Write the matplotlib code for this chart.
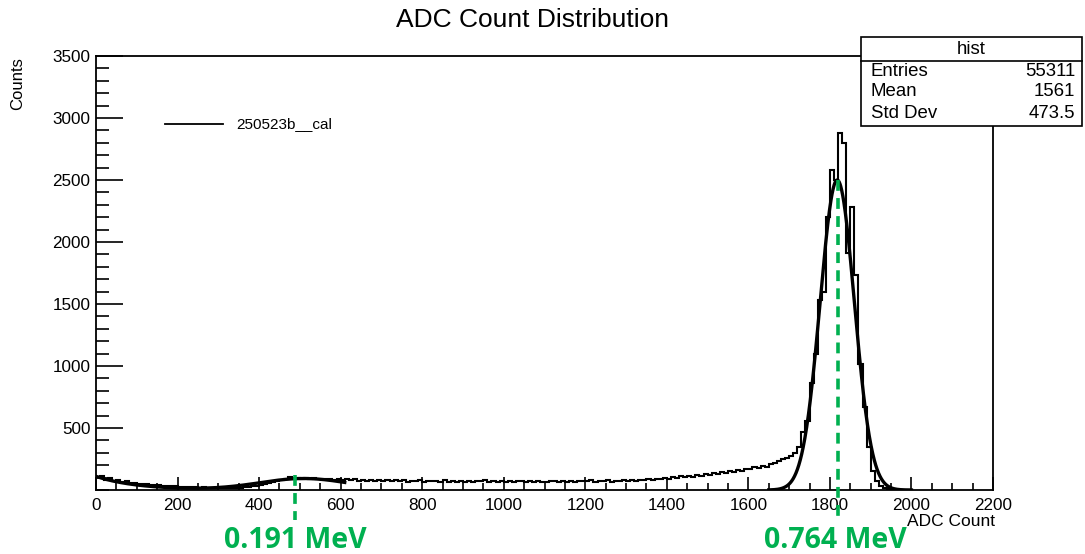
import numpy as np
import matplotlib
matplotlib.use("Agg")
import matplotlib.pyplot as plt
from matplotlib.patches import Rectangle
from matplotlib.lines import Line2D

plt.rcParams['font.family'] = ['Liberation Sans', 'DejaVu Sans']

# histogram: 10 ADC wide bins starting at 0
bin_width = 10
counts = [
    # 0 - 100
    105, 110, 80, 95, 75, 80, 65, 70, 55, 60,
    # 100 - 200
    50, 45, 48, 40, 42, 38, 35, 33, 30, 32,
    # 200 - 300
    28, 25, 27, 22, 24, 20, 22, 18, 20, 17,
    # 300 - 400
    18, 15, 17, 16, 19, 18, 22, 25, 30, 35,
    # 400 - 500
    42, 50, 58, 65, 72, 80, 88, 102, 95, 100,
    # 500 - 600
    92, 98, 90, 94, 88, 92, 85, 90, 82, 88,
    # 600 - 700
    80, 85, 78, 86, 75, 82, 76, 84, 72, 80,
    # 700 - 800
    74, 82, 70, 78, 72, 80, 68, 76, 70, 78,
    # 800 - 900
    66, 76, 70, 74, 64, 78, 68, 72, 66, 74,
    # 900 - 1000
    68, 76, 64, 72, 70, 78, 66, 74, 62, 72,
    # 1000 - 1100
    68, 74, 64, 76, 70, 66, 74, 62, 72, 68,
    # 1100 - 1200
    66, 74, 70, 64, 76, 68, 72, 66, 74, 70,
    # 1200 - 1300
    72, 78, 68, 74, 70, 80, 66, 76, 72, 78,
    # 1300 - 1400
    74, 82, 76, 84, 78, 88, 80, 92, 86, 96,
    # 1400 - 1500
    90, 104, 96, 110, 102, 116, 108, 122, 114, 128,
    # 1500 - 1600
    120, 136, 128, 144, 136, 152, 144, 162, 154, 172,
    # 1600 - 1700
    166, 182, 176, 194, 188, 206, 214, 232, 246, 262,
    # 1700 - 1800
    272, 300, 350, 470, 560, 860, 1100, 1530, 1600, 2200,
    # 1800 - 1900
    2580, 2500, 2880, 2800, 1910, 2280, 1730, 1020, 670, 350,
    # 1900 - 2000
    150, 70, 35, 20, 10, 5, 2, 0, 0, 0,
]

# fit parameters
peak_fit = dict(amp=2500, mean=1818, sigma=42, lo=1650, hi=2000)
low_fit = dict(bkg_amp=110, bkg_tau=100, amp=92, mean=510, sigma=110, lo=0, hi=610)

# energy markers
marker_adc = [488, 1820]
marker_top = [121, 2500]
marker_text = ["0.191 MeV", "0.764 MeV"]

stats_rows = [("Entries", "55311"), ("Mean", "1561"), ("Std Dev", "473.5")]
legend_label = "250523b__cal"

W, H = 1085, 554
fig = plt.figure(figsize=(W / 100, H / 100), dpi=100)
fig.patch.set_facecolor('white')

def fx(px):
    return px / W

def fy(py):
    return 1 - py / H

ax = fig.add_axes([fx(96), fy(490), fx(993) - fx(96), fy(56) - fy(490)])

edges = np.arange(len(counts) + 1) * bin_width
ax.stairs(counts, edges, color='black', lw=1.5, baseline=None)

# fitted curves
xp = np.linspace(peak_fit['lo'], peak_fit['hi'], 400)
yp = peak_fit['amp'] * np.exp(-0.5 * ((xp - peak_fit['mean']) / peak_fit['sigma']) ** 2)
ax.plot(xp, yp, color='black', lw=2.4)

xl = np.linspace(low_fit['lo'], low_fit['hi'], 400)
yl = (low_fit['bkg_amp'] * np.exp(-xl / low_fit['bkg_tau'])
      + low_fit['amp'] * np.exp(-0.5 * ((xl - low_fit['mean']) / low_fit['sigma']) ** 2))
ax.plot(xl, yl, color='black', lw=2.4)

ax.set_xlim(0, 2200)
ax.set_ylim(0, 3500)

ax.set_xticks(np.arange(0, 2201, 200))
ax.set_xticks(np.arange(0, 2201, 50), minor=True)
ax.set_yticks(np.arange(500, 3501, 500))
ax.set_yticks(np.arange(0, 3501, 100), minor=True)
ax.tick_params(axis='both', which='both', direction='in', top=False, right=False, width=1.2, colors='black')
ax.tick_params(axis='x', which='major', length=9.4, labelsize=12.3, pad=6)
ax.tick_params(axis='x', which='minor', length=4.8)
ax.tick_params(axis='y', which='major', length=19.4, labelsize=12.3, pad=4)
ax.tick_params(axis='y', which='minor', length=9.4)
for s in ax.spines.values():
    s.set_linewidth(1.3)

# dashed energy markers
for xa, top in zip(marker_adc, marker_top):
    ax.plot([xa, xa], [top, -245], color='#00b050', lw=2.6, ls=(0, (3, 2)), clip_on=False, zorder=5)

fig.text(fx(295), fy(540), marker_text[0], color='#00b050', fontsize=20.5, fontweight='bold',
         family=['Open Sans', 'DejaVu Sans'], ha='center', va='center')
fig.text(fx(835), fy(540), marker_text[1], color='#00b050', fontsize=20.5, fontweight='bold',
         family=['Open Sans', 'DejaVu Sans'], ha='center', va='center')

# titles
fig.text(fx(532), fy(20), "ADC Count Distribution", fontsize=19, ha='center', va='center')
fig.text(fx(995), fy(522), "ADC Count", fontsize=12.5, ha='right', va='center')
fig.text(fx(18), fy(57), "Counts", fontsize=12, rotation=90, ha='center', va='top')

# legend
fig.add_artist(Line2D([fx(165), fx(223)], [fy(124), fy(124)], color='black', lw=1.3))
fig.text(fx(236), fy(124), legend_label, fontsize=11, ha='left', va='center')

# stats box
fig.add_artist(Rectangle((fx(861), fy(126)), fx(1082) - fx(861), fy(37) - fy(126),
                         facecolor='white', edgecolor='black', lw=1.2, zorder=10))
fig.add_artist(Line2D([fx(861), fx(1082)], [fy(61), fy(61)], color='black', lw=1.2, zorder=11))
fig.text(fx(971), fy(49), "hist", fontsize=13.4, ha='center', va='center', zorder=12)
for i, (k, v) in enumerate(stats_rows):
    yy = fy(71 + i * 21)
    fig.text(fx(871), yy, k, fontsize=13.4, ha='left', va='center', zorder=12)
    fig.text(fx(1075), yy, v, fontsize=13.4, ha='right', va='center', zorder=12)

fig.savefig("out.png", dpi=100)
